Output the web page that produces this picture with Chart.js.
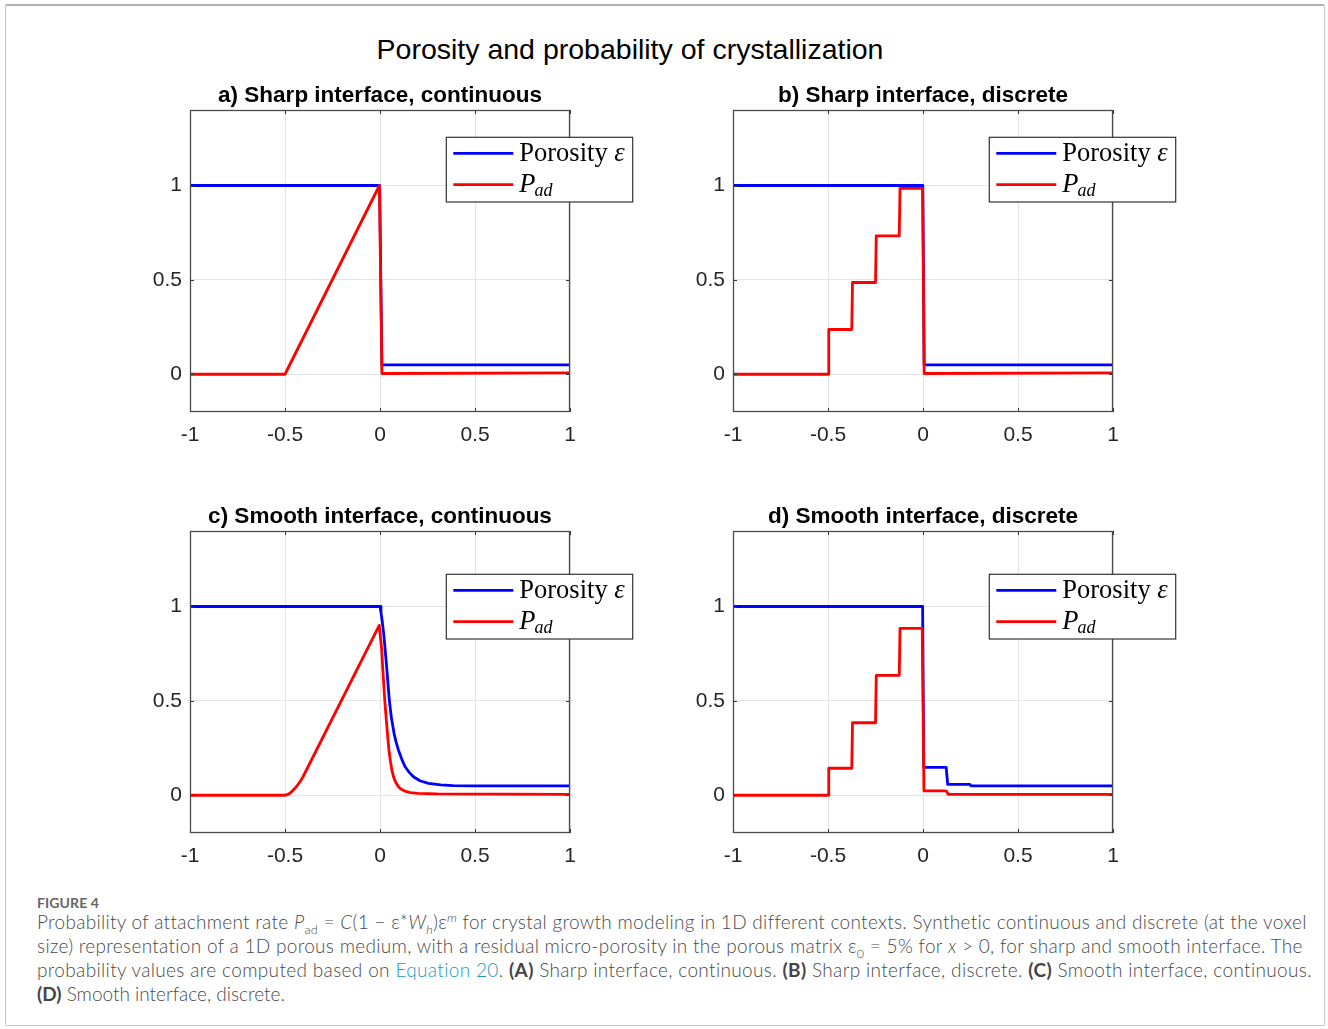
<!DOCTYPE html>
<html><head><meta charset="utf-8">
<script src="https://cdn.jsdelivr.net/npm/chart.js@4.4.1/dist/chart.umd.min.js"></script>
<style>
html,body{margin:0;padding:0;background:#fff;}
body{width:1328px;height:1029px;position:relative;overflow:hidden;font-family:"Liberation Sans",Arial,sans-serif;}
#frame{position:absolute;left:5px;top:4px;width:1320px;height:1022px;border:1px solid #c9c9c9;border-top:2px solid #b0b0b0;box-sizing:border-box;border-radius:2px;}
#title{position:absolute;left:0;width:1260px;top:35px;text-align:center;font-size:28.5px;line-height:1;color:#000;}
canvas.cv{position:absolute;}
.cap{position:absolute;left:37px;white-space:nowrap;font-family:Lato,"Open Sans",sans-serif;font-size:19px;font-weight:300;line-height:24px;color:#4a4a4a;}
.cap sub,.cap sup{font-size:12.5px;line-height:0;position:relative;vertical-align:baseline;}
.cap sub{top:5px;}
.cap sup{top:-7px;}
.cap b{color:#444;font-weight:700;}
.eq{color:#1a9bb8;}
#fig{position:absolute;left:37px;top:894px;font-family:Lato,"Open Sans",sans-serif;font-size:14px;font-weight:700;color:#666;line-height:18px;letter-spacing:0.1px;}
</style>
</head>
<body>
<div id="frame"></div>
<div id="title">Porosity and probability of crystallization</div>
<canvas class="cv" id="ca" width="540" height="420" style="left:110px;top:60px;width:540px;height:420px"></canvas>
<canvas class="cv" id="cb" width="540" height="420" style="left:653px;top:60px;width:540px;height:420px"></canvas>
<canvas class="cv" id="cc" width="540" height="420" style="left:110px;top:481px;width:540px;height:420px"></canvas>
<canvas class="cv" id="cd" width="540" height="420" style="left:653px;top:481px;width:540px;height:420px"></canvas>
<div id="fig">FIGURE 4</div>
<div class="cap" data-w="1269" style="top:910px">Probability of attachment rate <i>P</i><sub>ad</sub> = <i>C</i>(1 − ε*<i>W<sub>h</sub></i>)ε<sup><i>m</i></sup> for crystal growth modeling in 1D different contexts. Synthetic continuous and discrete (at the voxel</div>
<div class="cap" data-w="1266" style="top:934px">size) representation of a 1D porous medium, with a residual micro-porosity in the porous matrix ε<sub>0</sub> = 5% for <i>x</i> &gt; 0, for sharp and smooth interface. The</div>
<div class="cap" data-w="1276" style="top:958px">probability values are computed based on <span class="eq">Equation 20</span>. <b>(A)</b> Sharp interface, continuous. <b>(B)</b> Sharp interface, discrete. <b>(C)</b> Smooth interface, continuous.</div>
<div class="cap" style="top:982px"><b>(D)</b> Smooth interface, discrete.</div>
<script>
// ---------- data ----------
const X_TICKS = [-1, -0.5, 0, 0.5, 1];
const Y_TICKS = [0, 0.5, 1];
const X_MIN = -1, X_MAX = 1, Y_MIN = -0.2, Y_MAX = 1.4;

const TITLES = ['a) Sharp interface, continuous', 'b) Sharp interface, discrete',
                'c) Smooth interface, continuous', 'd) Smooth interface, discrete'];

// a) sharp interface, continuous
const aPorosityX = [-1, -0.002, 0.01, 1];
const aPorosityY = [1, 1, 0.05, 0.05];
const aPadX = [-1, -0.5, -0.003, 0.01, 1];
const aPadY = [0, 0, 1, 0.004, 0.007];

// b) sharp interface, discrete
const bPorosityX = [-1, -0.001, 0.006, 1];
const bPorosityY = [1, 1, 0.05, 0.05];
const bPadX = [-1, -0.5, -0.496, -0.375, -0.371, -0.25, -0.246, -0.125, -0.121, -0.002, 0.006, 1];
const bPadY = [0, 0, 0.237, 0.237, 0.486, 0.486, 0.733, 0.733, 0.985, 0.985, 0.004, 0.007];

// c) smooth interface, continuous
const cPorosityX = [-1, 0, 0.005, 0.012, 0.021, 0.035, 0.049, 0.06, 0.074, 0.085, 0.097, 0.115, 0.132, 0.155, 0.176, 0.21, 0.255, 0.32, 0.385, 0.5, 1];
const cPorosityY = [1, 1, 0.97, 0.92, 0.84, 0.68, 0.504, 0.41, 0.328, 0.28, 0.24, 0.19, 0.151, 0.12, 0.098, 0.077, 0.063, 0.055, 0.051, 0.05, 0.05];
const cPadX = [-1, -0.5, -0.49, -0.475, -0.46, -0.44, -0.42, -0.405, -0.004, 0.009, 0.014, 0.025, 0.039, 0.047, 0.055, 0.063, 0.072, 0.082, 0.095, 0.11, 0.13, 0.16, 0.2, 0.3, 1];
const cPadY = [0, 0, 0.003, 0.01, 0.024, 0.045, 0.073, 0.098, 0.9, 0.77, 0.68, 0.504, 0.328, 0.24, 0.18, 0.13, 0.095, 0.07, 0.048, 0.033, 0.022, 0.014, 0.01, 0.007, 0.005];

// d) smooth interface, discrete
const dPorosityX = [-1, -0.002, 0.004, 0.122, 0.13, 0.247, 0.253, 1];
const dPorosityY = [1, 1, 0.148, 0.148, 0.058, 0.058, 0.05, 0.05];
const dPadX = [-1, -0.5, -0.496, -0.375, -0.371, -0.25, -0.246, -0.125, -0.121, -0.004, 0.005, 0.122, 0.132, 1];
const dPadY = [0, 0, 0.143, 0.143, 0.384, 0.384, 0.635, 0.635, 0.884, 0.884, 0.023, 0.023, 0.005, 0.005];

// ---------- caption fit ----------
document.querySelectorAll('.cap[data-w]').forEach(el => {
  const target = parseFloat(el.dataset.w);
  const w = el.getBoundingClientRect().width;
  const n = el.textContent.length;
  el.style.letterSpacing = ((target - w) / n).toFixed(3) + 'px';
});

// ---------- drawing ----------
const TICK_FONT = '"Liberation Sans", Arial, Helvetica, sans-serif';
const SERIF = '"Liberation Serif", "Times New Roman", serif';
const LW = 2.8;

const matlabPlugin = {
  id: 'matlab',
  afterDraw(chart, args, opts) {
    const ctx = chart.ctx;
    const {left, right, top, bottom} = chart.chartArea;
    const xs = chart.scales.x, ys = chart.scales.y;
    ctx.save();
    // inward ticks
    ctx.strokeStyle = '#333';
    ctx.lineWidth = 1;
    ctx.beginPath();
    X_TICKS.forEach(v => {
      const px = Math.round(xs.getPixelForValue(v)) + 0.5;
      ctx.moveTo(px, bottom); ctx.lineTo(px, bottom - 4);
      ctx.moveTo(px, top); ctx.lineTo(px, top + 4);
    });
    Y_TICKS.forEach(v => {
      const py = Math.round(ys.getPixelForValue(v)) + 0.5;
      ctx.moveTo(left, py); ctx.lineTo(left + 4, py);
      ctx.moveTo(right, py); ctx.lineTo(right - 4, py);
    });
    ctx.stroke();
    // box
    ctx.strokeStyle = '#4a4a4a';
    ctx.lineWidth = 1.3;
    ctx.strokeRect(left + 0.5, top + 0.5, right - left - 1, bottom - top - 1);
    // title
    ctx.fillStyle = '#000';
    ctx.font = 'bold 22.5px ' + TICK_FONT;
    ctx.textAlign = 'center';
    ctx.textBaseline = 'alphabetic';
    ctx.fillText(opts.title, (left + right) / 2, top - 8);
    // legend
    const lx = left + 256.3, ly = top + opts.legendTop, lw = 186.4, lh = 64.7;
    ctx.fillStyle = '#fff';
    ctx.fillRect(lx, ly, lw, lh);
    ctx.strokeStyle = '#333';
    ctx.lineWidth = 1.2;
    ctx.strokeRect(lx, ly, lw, lh);
    ctx.lineWidth = LW;
    ctx.strokeStyle = '#0000ff';
    ctx.beginPath(); ctx.moveTo(lx + 7, ly + 16); ctx.lineTo(lx + 67, ly + 16); ctx.stroke();
    ctx.strokeStyle = '#ff0000';
    ctx.beginPath(); ctx.moveTo(lx + 7, ly + 47.4); ctx.lineTo(lx + 67, ly + 47.4); ctx.stroke();
    ctx.fillStyle = '#000';
    ctx.textAlign = 'left';
    ctx.font = '26.5px ' + SERIF;
    const t1 = 'Porosity ';
    ctx.fillText(t1, lx + 73, ly + 23.7);
    const w1 = ctx.measureText(t1).width;
    ctx.font = 'italic 26.5px ' + SERIF;
    ctx.fillText('\u03B5', lx + 73 + w1, ly + 23.7);
    ctx.fillText('P', lx + 73, ly + 54.4);
    const wp = ctx.measureText('P').width;
    ctx.font = 'italic 18px ' + SERIF;
    ctx.fillText('ad', lx + 73 + wp - 1, ly + 58.4);
    ctx.restore();
  }
};

function pts(xs, ys) { return xs.map((x, i) => ({x: x, y: ys[i]})); }

function makeChart(id, title, porX, porY, padX, padY, legendTop) {
  return new Chart(document.getElementById(id), {
    type: 'scatter',
    data: {
      // Pad listed first so Chart.js paints it on top of the porosity line (as in the figure)
      datasets: [
        {label: 'Pad', data: pts(padX, padY), showLine: true, borderColor: '#ff0000',
         borderWidth: LW, pointRadius: 0, tension: 0, borderJoinStyle: 'round'},
        {label: 'Porosity', data: pts(porX, porY), showLine: true, borderColor: '#0000ff',
         borderWidth: LW, pointRadius: 0, tension: 0, borderJoinStyle: 'round'}
      ]
    },
    options: {
      responsive: false, animation: false, devicePixelRatio: 1,
      layout: {padding: {left: 30, top: 50, right: 80, bottom: 0}},
      plugins: {legend: {display: false}, tooltip: {enabled: false},
                matlab: {title: title, legendTop: legendTop}},
      scales: {
        x: {
          type: 'linear', min: X_MIN, max: X_MAX,
          afterBuildTicks: s => { s.ticks = X_TICKS.map(v => ({value: v})); },
          afterFit: s => { s.height = 68; },
          grid: {color: '#e4e4e4', drawTicks: false, lineWidth: 1},
          border: {display: false},
          ticks: {padding: 11, color: '#262626', font: {family: TICK_FONT, size: 21},
                  callback: v => String(v), maxRotation: 0, autoSkip: false}
        },
        y: {
          type: 'linear', min: Y_MIN, max: Y_MAX,
          afterBuildTicks: s => { s.ticks = Y_TICKS.map(v => ({value: v})); },
          afterFit: s => { s.width = 50; },
          grid: {color: '#e4e4e4', drawTicks: false, lineWidth: 1},
          border: {display: false},
          ticks: {padding: 8, color: '#262626', font: {family: TICK_FONT, size: 21},
                  callback: v => String(v), autoSkip: false}
        }
      }
    },
    plugins: [matlabPlugin]
  });
}

makeChart('ca', TITLES[0], aPorosityX, aPorosityY, aPadX, aPadY, 27.3);
makeChart('cb', TITLES[1], bPorosityX, bPorosityY, bPadX, bPadY, 27.3);
makeChart('cc', TITLES[2], cPorosityX, cPorosityY, cPadX, cPadY, 43.3);
makeChart('cd', TITLES[3], dPorosityX, dPorosityY, dPadX, dPadY, 43.3);
</script>
</body></html>
